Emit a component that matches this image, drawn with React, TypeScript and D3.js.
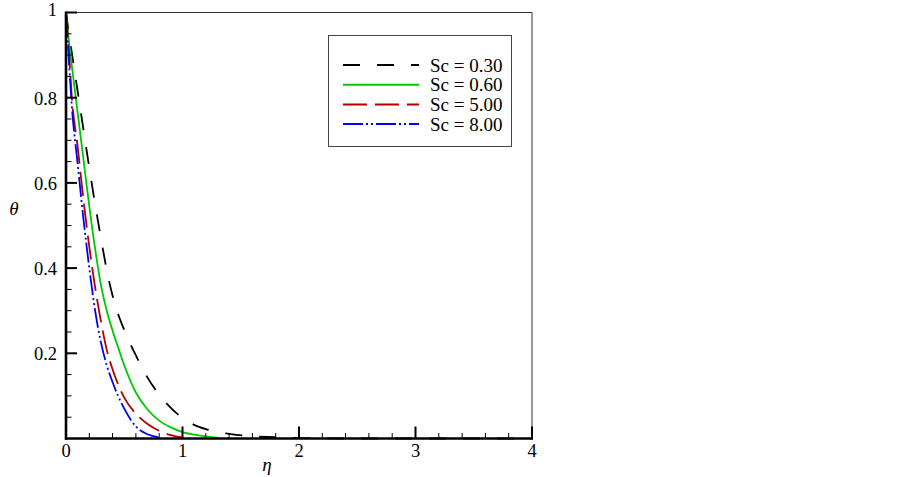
import React from "react";
import * as d3 from "d3";

const etaBlack = [0, 0.02, 0.05, 0.1, 0.15, 0.2, 0.25, 0.3, 0.35, 0.4, 0.45, 0.5, 0.6, 0.7, 0.8, 0.9, 1.0, 1.1, 1.2, 1.3, 1.4, 1.6, 1.8, 2.0, 2.5, 3.0, 4.0];
const thetaSc030 = [1, 0.96, 0.905, 0.815, 0.725, 0.635, 0.55, 0.47, 0.395, 0.335, 0.29, 0.255, 0.195, 0.143, 0.103, 0.072, 0.048, 0.032, 0.022, 0.015, 0.011, 0.005, 0.003, 0.001, 0, 0, 0];

const etaGreen = [0, 0.02, 0.05, 0.1, 0.15, 0.2, 0.25, 0.3, 0.35, 0.4, 0.45, 0.5, 0.6, 0.7, 0.8, 0.9, 1.0, 1.1, 1.2, 1.3];
const thetaSc060 = [1, 0.945, 0.875, 0.765, 0.655, 0.545, 0.445, 0.36, 0.3, 0.253, 0.212, 0.172, 0.108, 0.068, 0.042, 0.026, 0.015, 0.009, 0.005, 0.002];

const etaRed = [0, 0.02, 0.05, 0.1, 0.15, 0.2, 0.25, 0.3, 0.35, 0.4, 0.45, 0.5, 0.6, 0.7, 0.8, 0.9, 1.0];
const thetaSc500 = [1, 0.93, 0.8, 0.685, 0.56, 0.45, 0.355, 0.275, 0.208, 0.162, 0.125, 0.096, 0.058, 0.034, 0.018, 0.008, 0.002];

const etaBlue = [0, 0.02, 0.05, 0.1, 0.15, 0.2, 0.25, 0.3, 0.35, 0.4, 0.45, 0.5, 0.6, 0.7, 0.8];
const thetaSc800 = [1, 0.91, 0.78, 0.645, 0.515, 0.4, 0.3, 0.225, 0.172, 0.132, 0.098, 0.07, 0.028, 0.01, 0.003];

const seriesLabels = ["Sc = 0.30", "Sc = 0.60", "Sc = 5.00", "Sc = 8.00"];
const xTickValues = [0, 1, 2, 3, 4];
const yTickValues = [0.2, 0.4, 0.6, 0.8, 1];

const FONT = "'Liberation Serif', 'Times New Roman', serif";

export default function App() {
  const x = d3.scaleLinear().domain([0, 4]).range([66, 532]);
  const y = d3.scaleLinear().domain([0, 1]).range([438.5, 12.5]);

  const series = [
    { xs: etaBlack, ys: thetaSc030, color: "#000000", dash: "17,17", width: 1.8 },
    { xs: etaGreen, ys: thetaSc060, color: "#00c800", dash: "", width: 1.8 },
    { xs: etaRed, ys: thetaSc500, color: "#b00000", dash: "24,8", width: 1.8 },
    { xs: etaBlue, ys: thetaSc800, color: "#0000ff", dash: "20,3,2,3,2,3", width: 1.8 },
  ];

  const line = d3
    .line<[number, number]>()
    .x((d) => x(d[0]))
    .y((d) => y(d[1]))
    .curve(d3.curveMonotoneX);

  const xMinor = d3.range(0, 4.0001, 0.2).filter((v) => Math.abs(v - Math.round(v)) > 1e-6);
  const yMinor = d3.range(0, 1.0001, 0.05).filter((v) => Math.abs(v * 5 - Math.round(v * 5)) > 1e-6);

  const x0 = x(0), x1 = x(4), y0 = y(0), y1 = y(1);

  return (
    <svg width={903} height={477} style={{ position: "absolute", left: 0, top: 0, background: "#fff" }}>
      <rect x={0} y={0} width={903} height={477} fill="#fff" />
      {series.map((s, i) => (
        <path
          key={i}
          d={line(s.xs.map((v, j) => [v, s.ys[j]] as [number, number])) || ""}
          fill="none"
          stroke={s.color}
          strokeWidth={s.width}
          strokeDasharray={s.dash || undefined}
        />
      ))}
      {/* frame */}
      <line x1={x0} x2={x1} y1={y1} y2={y1} stroke="#333" strokeWidth={1} />
      <line x1={x1} x2={x1} y1={y1} y2={y0} stroke="#333" strokeWidth={1} />
      <line x1={x0} x2={x0} y1={y1 - 1} y2={y0 + 1.2} stroke="#000" strokeWidth={2.6} />
      <line x1={x0 - 1} x2={x1 + 1} y1={y0} y2={y0} stroke="#000" strokeWidth={2.6} />
      {/* x ticks */}
      {xTickValues.map((v) => (
        <g key={"xt" + v}>
          <line x1={x(v)} x2={x(v)} y1={y0} y2={y0 - 12} stroke="#000" strokeWidth={2} />
          <text x={x(v)} y={y0 + 18} fontFamily={FONT} fontSize={18.5} textAnchor="middle">
            {v}
          </text>
        </g>
      ))}
      {xMinor.map((v, i) => (
        <line key={"xm" + i} x1={x(v)} x2={x(v)} y1={y0} y2={y0 - 5.5} stroke="#000" strokeWidth={1} />
      ))}
      {/* y ticks */}
      {yTickValues.map((v) => (
        <g key={"yt" + v}>
          <line x1={x0} x2={x0 + 11} y1={y(v)} y2={y(v)} stroke="#000" strokeWidth={2} />
          <text x={x0 - 9} y={y(v) + (v === 1 ? 3 : 7)} fontFamily={FONT} fontSize={18.5} textAnchor="end">
            {v}
          </text>
        </g>
      ))}
      {yMinor.map((v, i) => (
        <line key={"ym" + i} x1={x0} x2={x0 + 5.5} y1={y(v)} y2={y(v)} stroke="#000" strokeWidth={1} />
      ))}
      {/* axis titles */}
      <text x={14} y={215} fontFamily={FONT} fontSize={19} fontStyle="italic" textAnchor="middle">
        θ
      </text>
      <text x={267} y={471} fontFamily={FONT} fontSize={19} fontStyle="italic" textAnchor="middle">
        η
      </text>
      {/* legend */}
      <rect x={328.5} y={35.5} width={183} height={111} fill="#fff" stroke="#444" strokeWidth={1} />
      {series.map((s, i) => {
        const ly = 65 + i * 19.7;
        return (
          <g key={"lg" + i}>
            <line x1={343} x2={419} y1={ly} y2={ly} stroke={s.color} strokeWidth={2} strokeDasharray={s.dash || undefined} />
            <text x={430} y={ly + 6.5} fontFamily={FONT} fontSize={19}>
              {seriesLabels[i]}
            </text>
          </g>
        );
      })}
    </svg>
  );
}
